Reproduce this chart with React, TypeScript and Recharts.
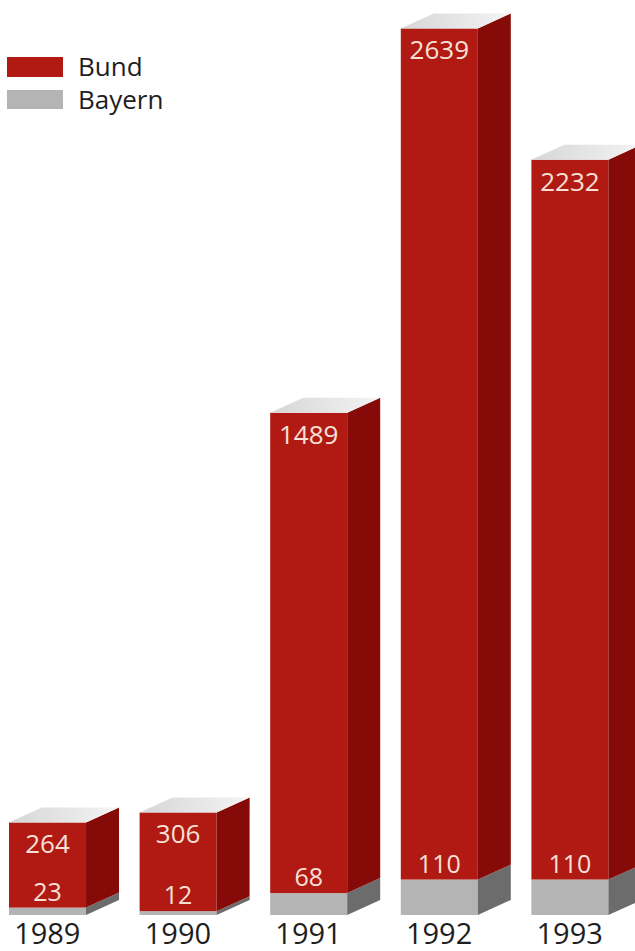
import { BarChart, Bar, XAxis, YAxis, LabelList } from "recharts";

const YEARS = ["1989", "1990", "1991", "1992", "1993"];
const BUND = [264, 306, 1489, 2639, 2232];
const BAYERN = [23, 12, 68, 110, 110];
const Y_MAX = 2800;

// schräge Tiefe der Säulen
const DX = 33;
const DY = 15;

const FONT = "'Open Sans', 'Noto Sans', sans-serif";

const data = YEARS.map((year, i) => ({ year, bund: BUND[i], bayern: BAYERN[i] }));

// eslint-disable-next-line @typescript-eslint/no-explicit-any
function Box3D(props: any) {
  const { x, y, width, height, front, side, withTop } = props;
  if (width == null || height == null) return null;
  const r = x + width;
  const b = y + height;
  return (
    <g>
      <rect x={x} y={y} width={width} height={height} fill={front} />
      <polygon
        points={`${r},${y} ${r + DX},${y - DY} ${r + DX},${b - DY} ${r},${b}`}
        fill={side}
      />
      {withTop && (
        <polygon
          points={`${x},${y} ${x + DX},${y - DY} ${r + DX},${y - DY} ${r},${y}`}
          fill="url(#topFace)"
        />
      )}
    </g>
  );
}

// eslint-disable-next-line @typescript-eslint/no-explicit-any
function BundLabel({ x, y, width, value }: any) {
  return (
    <text x={x + width / 2} y={y + 31} textAnchor="middle" fontSize={26} fill="#f6e0d8" fontFamily={FONT}>
      {value}
    </text>
  );
}

// eslint-disable-next-line @typescript-eslint/no-explicit-any
function BayernLabel({ x, y, width, value }: any) {
  return (
    <text x={x + width / 2} y={y - 7} textAnchor="middle" fontSize={25} fill="#f6e0d8" fontFamily={FONT}>
      {value}
    </text>
  );
}

// eslint-disable-next-line @typescript-eslint/no-explicit-any
function YearTick({ x, y, payload }: any) {
  return (
    <text x={x} y={y} dy={21} textAnchor="middle" fontSize={29} fill="#1e1e1e" fontFamily={FONT}>
      {payload.value}
    </text>
  );
}

export default function App() {
  return (
    <div style={{ position: "absolute", top: 0, left: 0, width: 635, height: 951, background: "#fff", overflow: "hidden" }}>
      <BarChart width={635} height={951} data={data} margin={{ top: 12, right: 0, left: -18, bottom: 0 }}>
        <defs>
          <linearGradient id="topFace" x1="0" y1="0" x2="1" y2="0">
            <stop offset="0%" stopColor="#d6d6d6" />
            <stop offset="100%" stopColor="#f4f4f4" />
          </linearGradient>
        </defs>
        <XAxis dataKey="year" axisLine={false} tickLine={false} height={36} tick={<YearTick />} interval={0} />
        <YAxis hide domain={[0, Y_MAX]} />
        <Bar
          dataKey="bayern"
          stackId="a"
          barSize={77}
          isAnimationActive={false}
          shape={(p: any) => <Box3D {...p} front="#b4b4b4" side="#6c6c6c" withTop={false} />}
        >
          <LabelList dataKey="bayern" content={<BayernLabel />} />
        </Bar>
        <Bar
          dataKey="bund"
          stackId="a"
          barSize={77}
          isAnimationActive={false}
          shape={(p: any) => <Box3D {...p} front="#b01a12" side="#860b08" withTop />}
        >
          <LabelList dataKey="bund" content={<BundLabel />} />
        </Bar>
      </BarChart>
      <div style={{ position: "absolute", top: 50, left: 7, fontFamily: FONT, fontSize: 26, color: "#1e1e1e", lineHeight: "33px" }}>
        <div style={{ display: "flex", alignItems: "center", height: 33 }}>
          <span style={{ width: 56, height: 20, background: "#b01a12", marginRight: 15 }} />
          Bund
        </div>
        <div style={{ display: "flex", alignItems: "center", height: 33 }}>
          <span style={{ width: 56, height: 19, background: "#b4b4b4", marginRight: 15 }} />
          Bayern
        </div>
      </div>
    </div>
  );
}
